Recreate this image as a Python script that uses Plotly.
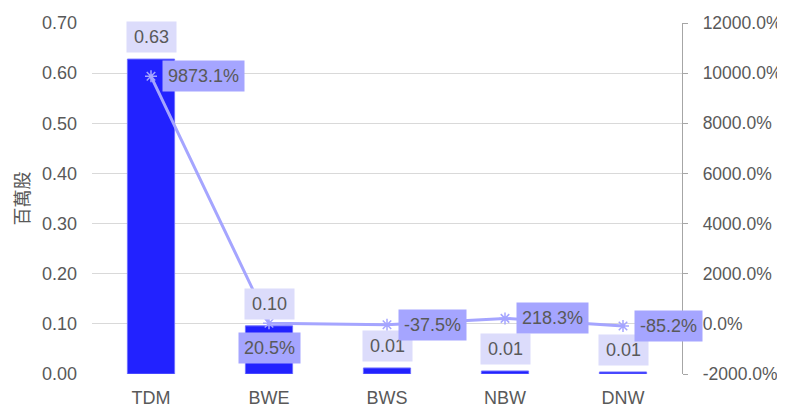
import plotly.graph_objects as go

categories = ["TDM", "BWE", "BWS", "NBW", "DNW"]
volume_millions = [0.628, 0.096, 0.012, 0.006, 0.004]
volume_labels = ["0.63", "0.10", "0.01", "0.01", "0.01"]
change_pct = [9873.1, 20.5, -37.5, 218.3, -85.2]
left_ticks = [0.0, 0.1, 0.2, 0.3, 0.4, 0.5, 0.6, 0.7]
right_ticks = [-2000, 0, 2000, 4000, 6000, 8000, 10000, 12000]
y_title = "百萬股"

FONT = "Liberation Sans, Arial, sans-serif"
FS = 18
GREY = "#595959"
BAR = "#2222ff"
LINE = "#a5a5ff"
BAR_LABEL_BG = "#dcdcfb"

fig = go.Figure()
fig.add_trace(go.Bar(
    x=categories, y=volume_millions, width=0.4,
    marker=dict(color=BAR, line=dict(color="#6f6fff", width=1)),
    yaxis="y", showlegend=False, hoverinfo="skip",
))
fig.add_trace(go.Scatter(
    x=categories, y=change_pct, mode="lines+markers",
    line=dict(color=LINE, width=3),
    marker=dict(symbol="asterisk-open", size=10, color=LINE, line=dict(color=LINE, width=1.5)),
    yaxis="y2", showlegend=False, hoverinfo="skip", cliponaxis=False,
))

annotations = []
for c, v, t in zip(categories, volume_millions, volume_labels):
    annotations.append(dict(
        x=c, y=v, xref="x", yref="y", text=t, showarrow=False,
        yanchor="bottom", xanchor="center", yshift=6,
        bgcolor=BAR_LABEL_BG, borderpad=5, width=39,
        font=dict(family=FONT, size=FS, color=GREY),
    ))

placement = ["right", "below", "right", "right", "right"]
for c, v, p in zip(categories, change_pct, placement):
    txt = f"{v:.1f}%"
    a = dict(
        x=c, y=v, xref="x", yref="y2", text=txt, showarrow=False,
        bgcolor=LINE, borderpad=5,
        font=dict(family=FONT, size=FS, color=GREY),
    )
    if p == "right":
        a.update(xanchor="left", yanchor="middle", xshift=11)
    else:
        a.update(xanchor="center", yanchor="top", yshift=-9)
    annotations.append(a)

# the page has an 8px body margin, so the figure is 8px smaller and margins shifted
fig.update_layout(
    width=777, height=406,
    margin=dict(l=84, r=103, t=15, b=40, autoexpand=False),
    paper_bgcolor="white", plot_bgcolor="white",
    font=dict(family=FONT, size=FS, color=GREY),
    xaxis=dict(
        type="category", range=[-0.5, len(categories) - 0.5],
        showgrid=False, showline=False, ticks="",
        automargin=False,
        ticklabelstandoff=11, tickfont=dict(family=FONT, size=FS, color=GREY),
    ),
    yaxis=dict(
        range=[0, 0.7], tickvals=left_ticks, tickformat=".2f",
        showgrid=True, gridcolor="#d9d9d9", gridwidth=1.3,
        zeroline=False, showline=False, ticks="",
        automargin=False,
        ticklabelstandoff=14,
        tickfont=dict(family=FONT, size=FS, color=GREY),
        title=dict(text=y_title, standoff=10,
                   font=dict(family="Noto Sans CJK TC", size=18, color=GREY)),
    ),
    yaxis2=dict(
        range=[-2000, 12000], tickvals=right_ticks,
        ticktext=[f"{v:.1f}%" for v in right_ticks],
        overlaying="y", side="right", showgrid=False, zeroline=False,
        showline=True, linecolor="#a6a6a6", linewidth=1.3,
        ticks="outside", ticklen=5, tickcolor="#a6a6a6", tickwidth=1.3,
        automargin=False,
        ticklabelstandoff=11,
        tickfont=dict(family=FONT, size=17.5, color=GREY),
    ),
    annotations=annotations,
)

fig.write_html("out.html")
